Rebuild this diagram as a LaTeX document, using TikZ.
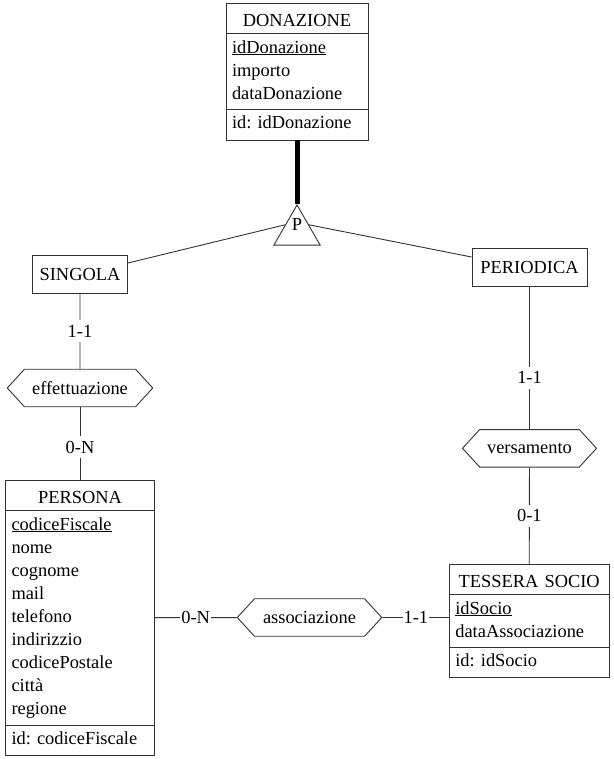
\documentclass[tikz,border=0pt]{standalone}
\usepackage{fontspec}
\setmainfont{Liberation Serif}
\usetikzlibrary{positioning,shapes.geometric,shapes.symbols}
\newcommand{\erfont}{\fontsize{18.4pt}{23.1pt}\selectfont\frenchspacing}
\tikzset{
  enttitle/.style={draw=black!80,line width=0.9pt,outer sep=0pt,inner xsep=6pt,align=center,
    text height=16pt,text depth=0pt,minimum height=30.5pt},
  entattr/.style={draw=black!80,line width=0.9pt,outer sep=0pt,inner xsep=6pt,align=left,
    execute at begin node=\strut,execute at end node=\strut},
  entid/.style={enttitle,align=left,text height=12.5pt,text depth=4pt},
  entbox/.style={draw=black!80,line width=0.9pt,minimum height=38pt},
  relship/.style={signal,signal to=west and east,signal pointer angle=95,
    draw=black!80,line width=0.9pt,minimum height=37.5pt},
  conn/.style={draw=black!80,line width=0.9pt},
  card/.style={fill=white,inner xsep=1pt,inner ysep=5pt}
}
\begin{document}
\begin{tikzpicture}[x=1pt,y=-1pt,font=\erfont]
\useasboundingbox (0,0) rectangle (613,759);
% \draw[help lines] (0,0) grid[step=50] (613,759);
% DONAZIONE
\node (donTitle) [enttitle,text width=130pt] at (297,18.25) {DONAZIONE};
\node (donAttr) [entattr,text width=130pt,minimum height=74pt,below=0pt of donTitle]
  {\underline{idDonazione}\\importo\\dataDonazione};
\node (donId) [entid,text width=130pt,below=0pt of donAttr] {id: idDonazione};
%
\node (gen) [regular polygon,regular polygon sides=3,draw=black!80,line width=0.9pt,
  minimum size=53.4pt,inner sep=0pt] at (297,231.7) {};
\node (genP) at (297,224) {P};
\node (singola) [entbox,minimum width=95pt] at (80,274) {SINGOLA};
\node (periodica) [entbox,minimum width=115pt] at (529.5,267) {PERIODICA};
%
\node (effett) [relship,minimum width=145.5pt] at (80,388) {effettuazione};
\node (versam) [relship,minimum width=134pt] at (529.5,448.3) {versamento};
\node (assoc) [relship,minimum width=144.5pt] at (309.5,617.5) {associazione};
% PERSONA
\node (persTitle) [enttitle,text width=137pt] at (80,495.25) {PERSONA};
\node (persAttr) [entattr,text width=137pt,minimum height=212pt,below=0pt of persTitle]
  {\underline{codiceFiscale}\\nome\\cognome\\mail\\telefono\\indirizzio\\codicePostale\\città\\regione};
\node (persId) [entid,text width=137pt,below=0pt of persAttr] {id: codiceFiscale};
% TESSERA SOCIO
\node (tessTitle) [enttitle,text width=147.7pt] at (529.2,579.25) {TESSERA SOCIO};
\node (tessAttr) [entattr,text width=147.7pt,minimum height=50pt,below=0pt of tessTitle]
  {\underline{idSocio}\\dataAssociazione};
\node (tessId) [entid,text width=147.7pt,below=0pt of tessAttr] {id: idSocio};
%
\draw[line width=5pt] (donId) -- (gen.corner 1);
\draw[conn] (gen.side 1) -- ([yshift=11pt]singola.east);
\draw[conn] (gen.side 3) -- ([yshift=10pt]periodica.west);
\draw[conn] (singola) -- node[card] {1-1} (effett);
\draw[conn] (effett) -- node[card,pos=0.55] {0-N} (persTitle);
\draw[conn] (periodica) -- node[card,pos=0.64] {1-1} (versam);
\draw[conn] (versam) -- node[card] {0-1} (tessTitle);
\draw[conn] (persAttr) -- node[card] {0-N} (assoc);
\draw[conn] (assoc) -- node[card] {1-1} (assoc -| tessAttr.west);
\end{tikzpicture}
\end{document}
